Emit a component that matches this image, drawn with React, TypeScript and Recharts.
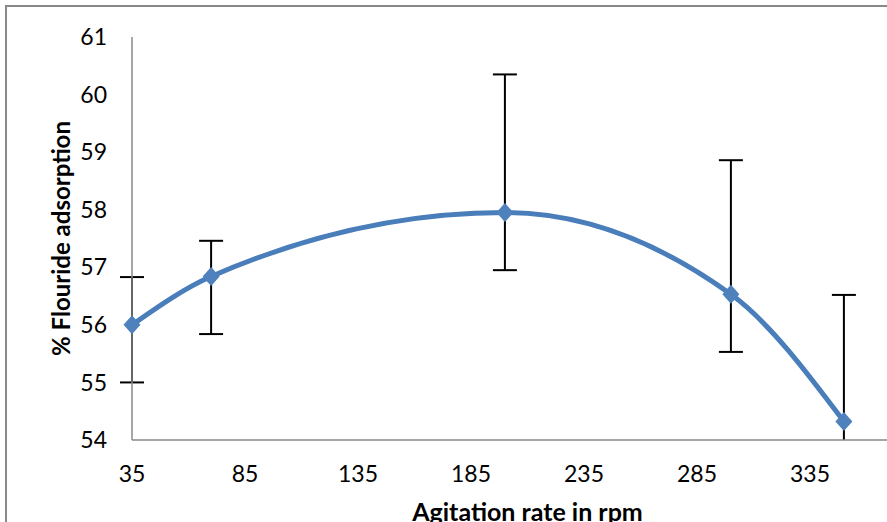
import { LineChart, Line, XAxis, YAxis, ErrorBar } from "recharts"

// agitation rate (rpm) vs % fluoride adsorption, with asymmetric error bars
const rpm = [35, 70, 200, 300, 350]
const adsorption = [56.0, 56.84, 57.95, 56.53, 54.32]
const errLow = [1.0, 1.0, 1.0, 1.0, 1.0]
const errHigh = [0.83, 0.62, 2.4, 2.33, 2.2]

const xTicks = [35, 85, 135, 185, 235, 285, 335]
const yTicks = [54, 55, 56, 57, 58, 59, 60, 61]

const data = rpm.map((x, i) => ({
  x,
  y: adsorption[i],
  err: [errLow[i], errHigh[i]],
}))

const FONT = "Lato, 'Open Sans', sans-serif"
const AXIS = "#898989"

const Diamond = (props: any) => {
  const { cx, cy, index } = props
  if (cx == null || cy == null) return null
  const rx = 8.5
  const ry = 9.5
  return (
    <path
      key={index}
      d={`M${cx},${cy - ry} L${cx + rx},${cy} L${cx},${cy + ry} L${cx - rx},${cy} Z`}
      fill="#4F81BD"
    />
  )
}

const App = () => {
  return (
    <div
      style={{
        position: "fixed",
        left: 0,
        top: 0,
        width: 887,
        height: 522,
        overflow: "hidden",
        background: "#fff",
      }}
    >
      {/* error bars stop at the plot area, like the excel original */}
      <style>{`.recharts-errorBars { clip-path: url(#errClip); }`}</style>
      <svg width={0} height={0} style={{ position: "absolute" }}>
        <defs>
          <clipPath id="errClip" clipPathUnits="userSpaceOnUse">
            <rect x={0} y={0} width={1000} height={440} />
          </clipPath>
        </defs>
      </svg>
      <div
        style={{
          position: "absolute",
          left: 5,
          top: 5,
          width: 1000,
          height: 600,
          border: `2px solid ${AXIS}`,
        }}
      />
      <div style={{ position: "absolute", left: 0, top: 0 }}>
        <LineChart
          width={1000}
          height={560}
          data={data}
          margin={{ top: 37, right: 77, left: 0, bottom: 70 }}
        >
          <XAxis
            type="number"
            dataKey="x"
            domain={[35, 385]}
            ticks={xTicks}
            interval={0}
            tickLine={false}
            tickSize={0}
            tickMargin={26}
            height={50}
            axisLine={{ stroke: AXIS, strokeWidth: 1.5 }}
            tick={{ fill: "#000", fontSize: 23, fontFamily: FONT }}
            label={{
              value: "Agitation rate in rpm",
              position: "bottom",
              offset: 13,
              style: { fill: "#000", fontSize: 25, fontWeight: 700, fontFamily: FONT },
            }}
          />
          <YAxis
            type="number"
            domain={[54, 61]}
            ticks={yTicks}
            interval={0}
            allowDataOverflow
            width={132}
            tickLine={false}
            tickSize={0}
            tickMargin={25}
            axisLine={{ stroke: AXIS, strokeWidth: 1.5 }}
            tick={{ fill: "#000", fontSize: 23, fontFamily: FONT }}
            label={{
              value: "% Flouride adsorption",
              angle: -90,
              position: "insideLeft",
              offset: 61,
              style: {
                textAnchor: "middle",
                fill: "#000",
                fontSize: 24,
                fontWeight: 700,
                fontFamily: FONT,
              },
            }}
          />
          <Line
            type="monotone"
            dataKey="y"
            stroke="#4A7EBB"
            strokeWidth={5}
            dot={Diamond}
            activeDot={false}
            isAnimationActive={false}
          >
            <ErrorBar
              dataKey="err"
              direction="y"
              width={12}
              stroke="#000"
              strokeWidth={2}
              isAnimationActive={false}
            />
          </Line>
        </LineChart>
      </div>
    </div>
  )
}

export default App
